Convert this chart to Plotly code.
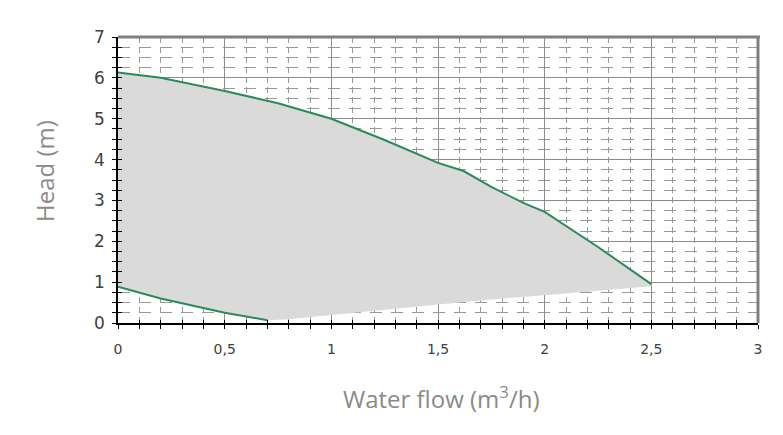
import plotly.graph_objects as go

# Upper boundary (max head) of the pump operating area
upper_flow = [0.0, 0.2, 0.5, 0.75, 1.0, 1.25, 1.5, 1.62, 1.75, 1.9, 2.0, 2.25, 2.5]
upper_head = [6.13, 6.0, 5.68, 5.38, 5.0, 4.48, 3.92, 3.72, 3.33, 2.94, 2.72, 1.86, 0.95]

# Lower boundary (min head) of the pump operating area
lower_flow = [0.0, 0.2, 0.5, 0.7, 0.8, 1.0, 1.5, 1.8, 2.0, 2.5]
lower_head = [0.89, 0.6, 0.25, 0.07, 0.09, 0.2, 0.45, 0.6, 0.68, 0.9]

# Portion of lower boundary drawn as a curve
lower_line_flow = [0.0, 0.2, 0.5, 0.7]
lower_line_head = [0.89, 0.6, 0.25, 0.07]

x_tickvals = [0, 0.5, 1, 1.5, 2, 2.5, 3]
x_ticktext = ["0", "0,5", "1", "1,5", "2", "2,5", "3"]
y_tickvals = [0, 1, 2, 3, 4, 5, 6, 7]

x_title = "Water flow (m<sup style='font-size:15px'>3</sup>/h)"
y_title = "Head (m)"

GREEN = "#2b8a5c"
TICKFONT = "DejaVu Sans"
TITLEFONT = "Open Sans"

fig = go.Figure()

# shaded operating area
fig.add_trace(go.Scatter(
    x=upper_flow + lower_flow[::-1],
    y=upper_head + lower_head[::-1],
    fill="toself", fillcolor="#dadada",
    line=dict(width=0), mode="lines", hoverinfo="skip", showlegend=False))

fig.add_trace(go.Scatter(x=upper_flow, y=upper_head, mode="lines",
                         line=dict(color=GREEN, width=2), showlegend=False))
fig.add_trace(go.Scatter(x=lower_line_flow, y=lower_line_head, mode="lines",
                         line=dict(color=GREEN, width=2), showlegend=False))

# dummy trace for overlay axes (inside ticks)
fig.add_trace(go.Scatter(x=[], y=[], xaxis="x2", yaxis="y2", showlegend=False))

fig.update_layout(
    width=783, height=435,
    margin=dict(l=118, r=25, t=37, b=112),
    paper_bgcolor="white", plot_bgcolor="white",
    showlegend=False,
    xaxis=dict(
        range=[0, 3], tickvals=x_tickvals, ticktext=x_ticktext,
        showgrid=True, gridcolor="#8c8c8c", gridwidth=1,
        zeroline=False, showline=True, linecolor="black", linewidth=1.5,
        ticks="outside", ticklen=4, tickcolor="black", tickwidth=1.2,
        ticklabelstandoff=8,
        tickfont=dict(family=TICKFONT, size=14, color="#404040"),
        minor=dict(dtick=0.1, showgrid=True, gridcolor="#999999", griddash="6px,4px",
                   gridwidth=1, ticks="outside", ticklen=4, tickcolor="black"),
    ),
    yaxis=dict(
        range=[0, 7], tickvals=y_tickvals,
        showgrid=True, gridcolor="#8c8c8c", gridwidth=1,
        zeroline=False, showline=True, linecolor="black", linewidth=1.5,
        ticks="outside", ticklen=4, tickcolor="black", tickwidth=1.2,
        ticklabelstandoff=4,
        tickfont=dict(family=TICKFONT, size=17, color="#404040"),
        minor=dict(dtick=0.25, showgrid=True, gridcolor="#999999", griddash="12px,9px",
                   gridwidth=1, ticks="outside", ticklen=4, tickcolor="black"),
    ),
    xaxis2=dict(range=[0, 3], overlaying="x", anchor="y", side="bottom",
                dtick=0.1, tick0=0, ticks="inside", ticklen=3, tickcolor="black",
                showticklabels=False, showgrid=False, zeroline=False, showline=False),
    yaxis2=dict(range=[0, 7], overlaying="y", anchor="x", side="left",
                dtick=0.25, tick0=0, ticks="inside", ticklen=4, tickcolor="black",
                showticklabels=False, showgrid=False, zeroline=False, showline=False),
    shapes=[
        dict(type="line", xref="paper", yref="paper", x0=0, x1=1.003, y0=1, y1=1,
             line=dict(color="#808080", width=3)),
        dict(type="line", xref="paper", yref="paper", x0=1, x1=1, y0=0, y1=1,
             line=dict(color="#808080", width=3)),
    ],
    annotations=[
        dict(text=x_title, xref="paper", yref="paper",
             x=(441 - 118) / 640, y=(323 - 397) / 286,
             xanchor="center", yanchor="middle", showarrow=False,
             font=dict(family=TITLEFONT, size=24, color="#8a8a8a")),
        dict(text=y_title, xref="paper", yref="paper",
             x=(44 - 118) / 640, y=(323 - 171) / 286, textangle=-90,
             xanchor="center", yanchor="middle", showarrow=False,
             font=dict(family=TITLEFONT, size=24, color="#8a8a8a")),
    ],
)

fig.write_html("out.html")
